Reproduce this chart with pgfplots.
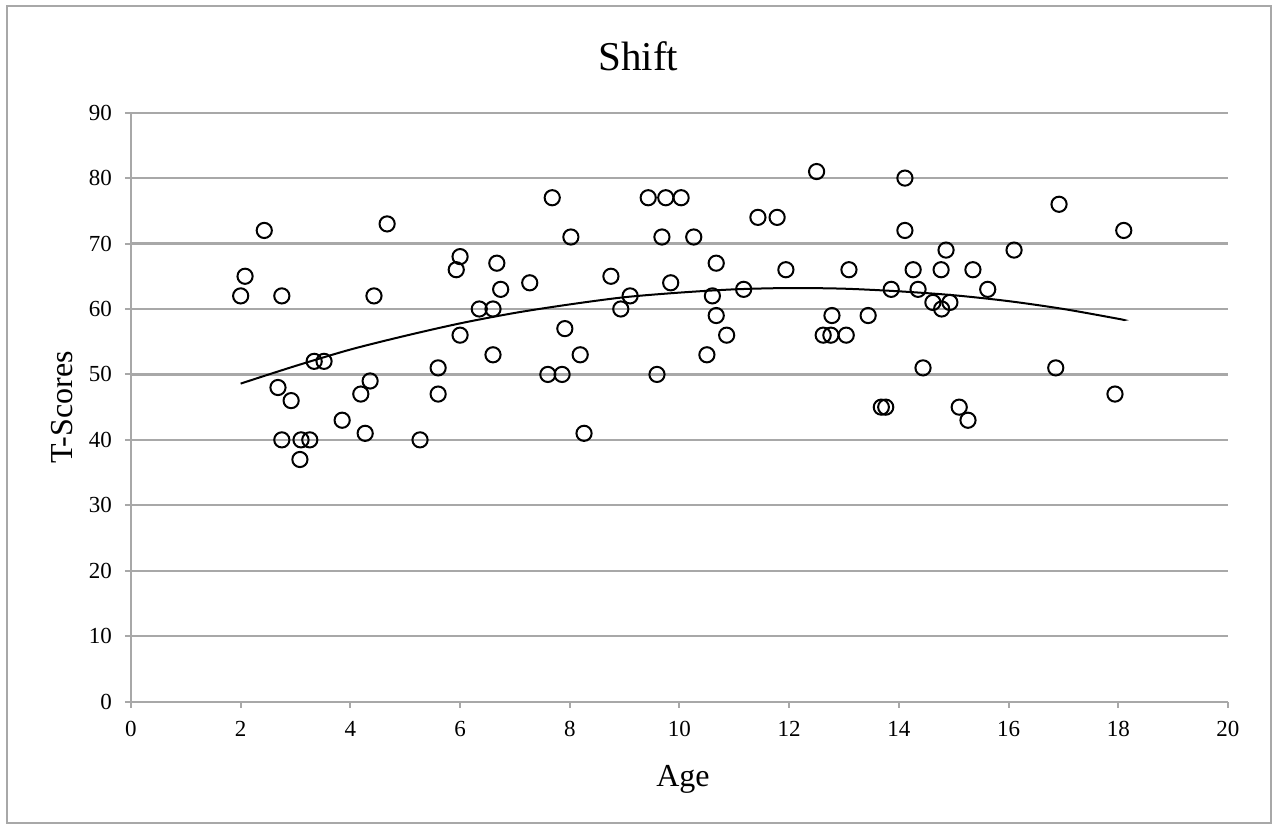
\documentclass[border=0pt]{standalone}
\usepackage{pgfplots}
\pgfplotsset{compat=1.18}
\usepackage{fontspec}
\setmainfont{Liberation Serif}
\definecolor{gridgray}{RGB}{168,168,168}
\begin{document}
\begin{tikzpicture}
\begin{axis}[
  scale only axis=true,
  width=548.5pt, height=294.5pt,
  xmin=0, xmax=20, ymin=0, ymax=90,
  xtick={0,2,...,20}, ytick={0,10,...,90},
  axis x line=bottom, axis y line=left,
  axis line style={gridgray, line width=1.1pt, -},
  ymajorgrids=true,
  major grid style={gridgray, line width=1.1pt},
  tick align=outside,
  major tick length=3pt,
  tick style={gridgray, line width=1pt},
  /pgf/number format/assume math mode=true,
  ticklabel style={font=\fontsize{11.5}{13}\selectfont, black},
  yticklabel style={xshift=-3pt},
  xticklabel style={yshift=-3.5pt},
  clip=false,
]
\addplot[only marks, mark=o, mark size=3.8pt, mark options={line width=1pt, black}] coordinates {
(2.0,62) (2.08,65) (2.43,72) (2.75,62) (2.68,48) (2.75,40) (2.92,46)
(3.1,40) (3.26,40) (3.08,37) (3.34,52) (3.52,52) (3.85,43) (4.19,47)
(4.27,41) (4.36,49) (4.43,62) (4.67,73) (5.27,40) (5.6,51) (5.6,47)
(5.93,66) (6.0,68) (6.0,56) (6.35,60) (6.6,60) (6.6,53) (6.67,67)
(6.74,63) (7.27,64) (7.6,50) (7.68,77) (7.86,50) (7.91,57) (8.02,71)
(8.19,53) (8.26,41) (8.75,65) (8.93,60) (9.1,62) (9.43,77) (9.59,50)
(9.68,71) (9.75,77) (9.84,64) (10.03,77) (10.26,71) (10.5,53) (10.6,62)
(10.67,67) (10.67,59) (10.86,56) (11.17,63) (11.43,74) (11.78,74) (11.94,66)
(12.5,81) (12.62,56) (12.76,56) (12.78,59) (13.04,56) (13.09,66) (13.44,59)
(13.68,45) (13.76,45) (13.86,63) (14.11,80) (14.11,72) (14.26,66) (14.35,63)
(14.44,51) (14.62,61) (14.78,60) (14.77,66) (14.86,69) (14.93,61) (15.1,45)
(15.26,43) (15.35,66) (15.62,63) (16.1,69) (16.86,51) (16.92,76) (17.94,47)
(18.1,72)
};
\addplot[black, line width=1pt, smooth, no marks] coordinates {
(2,48.6) (3,51.3) (4,53.8) (5,55.9) (6,57.8) (7,59.4) (8,60.7) (9,61.8)
(10,62.5) (11,63.0) (12,63.2) (13,63.1) (14,62.7) (15,62.1) (16,61.2)
(17,60.0) (18,58.5) (18.1,58.3)
};
\node[font=\fontsize{20.5}{24}\selectfont] at (rel axis cs:0.4626,1.0963) {Shift};
\node[font=\fontsize{16}{19}\selectfont, anchor=base] at (rel axis cs:0.5032,-0.1448) {Age};
\node[font=\fontsize{16}{19}\selectfont, anchor=base, rotate=90] at (rel axis cs:-0.0529,0.4995) {T-Scores};
\draw[gridgray, line width=1pt] (rel axis cs:-0.1130,-0.2059) rectangle (rel axis cs:1.0392,1.1811);
\coordinate (bbll) at (rel axis cs:-0.1194,-0.2101);
\coordinate (bbur) at (rel axis cs:1.0447,1.1913);
\end{axis}
\pgfresetboundingbox
\path (bbll) rectangle (bbur);
\end{tikzpicture}
\end{document}
